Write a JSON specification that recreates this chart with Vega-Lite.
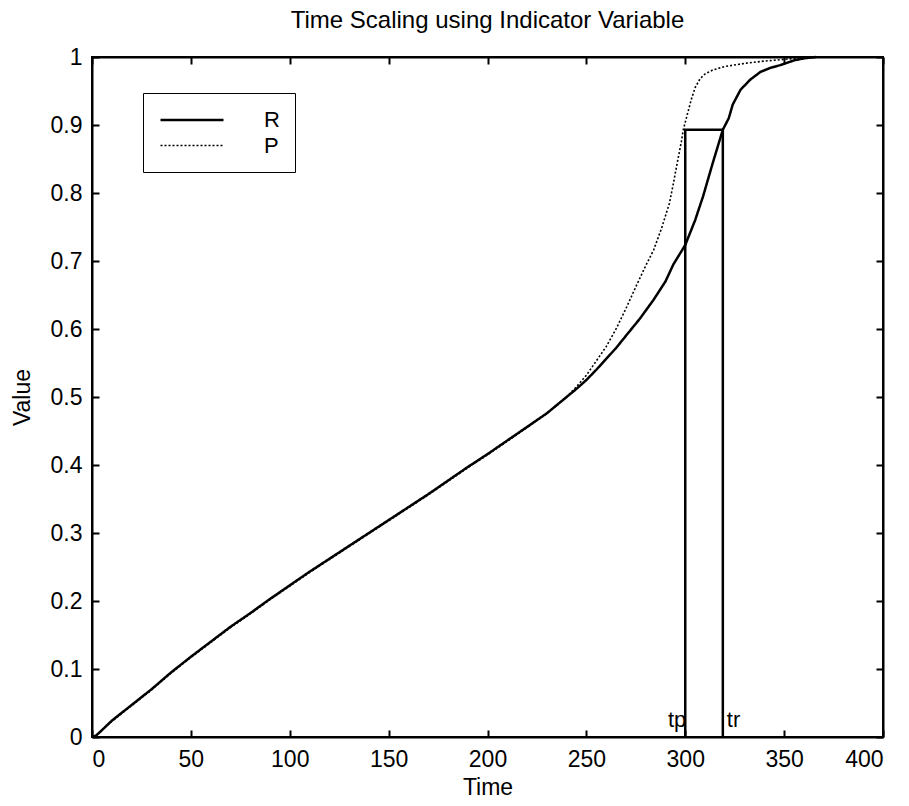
{
  "$schema": "https://vega.github.io/schema/vega-lite/v6.json",
  "autosize": "none",
  "width": 791,
  "height": 680,
  "padding": {"left": 92, "top": 57, "right": 26, "bottom": 69},
  "background": "white",
  "title": {"text": "Time Scaling using Indicator Variable", "fontSize": 24, "font": "Liberation Sans", "fontWeight": "normal", "color": "black", "offset": 13},
  "datasets": {
    "curves": [
      {"t": 0, "v": 0, "s": "R"}, {"t": 2, "v": 0.002, "s": "R"}, {"t": 5, "v": 0.01, "s": "R"}, {"t": 10, "v": 0.024, "s": "R"},
      {"t": 20, "v": 0.047, "s": "R"}, {"t": 30, "v": 0.07, "s": "R"}, {"t": 40, "v": 0.095, "s": "R"}, {"t": 50, "v": 0.118, "s": "R"},
      {"t": 60, "v": 0.14, "s": "R"}, {"t": 70, "v": 0.162, "s": "R"}, {"t": 80, "v": 0.182, "s": "R"}, {"t": 90, "v": 0.203, "s": "R"},
      {"t": 100, "v": 0.223, "s": "R"}, {"t": 110, "v": 0.243, "s": "R"}, {"t": 120, "v": 0.262, "s": "R"}, {"t": 130, "v": 0.281, "s": "R"},
      {"t": 140, "v": 0.3, "s": "R"}, {"t": 150, "v": 0.319, "s": "R"}, {"t": 160, "v": 0.338, "s": "R"}, {"t": 170, "v": 0.357, "s": "R"},
      {"t": 180, "v": 0.377, "s": "R"}, {"t": 190, "v": 0.397, "s": "R"}, {"t": 200, "v": 0.416, "s": "R"}, {"t": 210, "v": 0.436, "s": "R"},
      {"t": 220, "v": 0.456, "s": "R"}, {"t": 230, "v": 0.476, "s": "R"}, {"t": 240, "v": 0.5, "s": "R"}, {"t": 245, "v": 0.512, "s": "R"},
      {"t": 250, "v": 0.525, "s": "R"}, {"t": 255, "v": 0.54, "s": "R"}, {"t": 260, "v": 0.556, "s": "R"}, {"t": 265, "v": 0.572, "s": "R"},
      {"t": 270, "v": 0.59, "s": "R"}, {"t": 277, "v": 0.615, "s": "R"}, {"t": 284, "v": 0.643, "s": "R"}, {"t": 290, "v": 0.67, "s": "R"},
      {"t": 294, "v": 0.695, "s": "R"}, {"t": 300, "v": 0.7235, "s": "R"}, {"t": 305, "v": 0.76, "s": "R"}, {"t": 309, "v": 0.795, "s": "R"},
      {"t": 314, "v": 0.845, "s": "R"}, {"t": 319, "v": 0.893, "s": "R"}, {"t": 322, "v": 0.91, "s": "R"}, {"t": 324, "v": 0.93, "s": "R"},
      {"t": 328, "v": 0.952, "s": "R"}, {"t": 333, "v": 0.967, "s": "R"}, {"t": 338, "v": 0.978, "s": "R"}, {"t": 343, "v": 0.984, "s": "R"},
      {"t": 348, "v": 0.988, "s": "R"}, {"t": 355, "v": 0.995, "s": "R"}, {"t": 360, "v": 0.998, "s": "R"}, {"t": 366, "v": 1.0, "s": "R"},
      {"t": 0, "v": 0, "s": "P"}, {"t": 2, "v": 0.002, "s": "P"}, {"t": 5, "v": 0.01, "s": "P"}, {"t": 10, "v": 0.023, "s": "P"},
      {"t": 20, "v": 0.046, "s": "P"}, {"t": 30, "v": 0.069, "s": "P"}, {"t": 40, "v": 0.094, "s": "P"}, {"t": 50, "v": 0.117, "s": "P"},
      {"t": 60, "v": 0.139, "s": "P"}, {"t": 70, "v": 0.161, "s": "P"}, {"t": 80, "v": 0.181, "s": "P"}, {"t": 90, "v": 0.202, "s": "P"},
      {"t": 100, "v": 0.222, "s": "P"}, {"t": 110, "v": 0.242, "s": "P"}, {"t": 120, "v": 0.261, "s": "P"}, {"t": 130, "v": 0.28, "s": "P"},
      {"t": 140, "v": 0.299, "s": "P"}, {"t": 150, "v": 0.318, "s": "P"}, {"t": 160, "v": 0.337, "s": "P"}, {"t": 170, "v": 0.356, "s": "P"},
      {"t": 180, "v": 0.376, "s": "P"}, {"t": 190, "v": 0.396, "s": "P"}, {"t": 200, "v": 0.415, "s": "P"}, {"t": 210, "v": 0.435, "s": "P"},
      {"t": 220, "v": 0.455, "s": "P"}, {"t": 230, "v": 0.476, "s": "P"}, {"t": 240, "v": 0.5, "s": "P"}, {"t": 245, "v": 0.515, "s": "P"},
      {"t": 250, "v": 0.532, "s": "P"}, {"t": 255, "v": 0.553, "s": "P"}, {"t": 260, "v": 0.574, "s": "P"}, {"t": 265, "v": 0.6, "s": "P"},
      {"t": 270, "v": 0.63, "s": "P"}, {"t": 275, "v": 0.662, "s": "P"}, {"t": 280, "v": 0.693, "s": "P"}, {"t": 284, "v": 0.716, "s": "P"},
      {"t": 288, "v": 0.748, "s": "P"}, {"t": 292, "v": 0.785, "s": "P"}, {"t": 294, "v": 0.814, "s": "P"}, {"t": 296, "v": 0.845, "s": "P"},
      {"t": 298, "v": 0.875, "s": "P"}, {"t": 299, "v": 0.893, "s": "P"}, {"t": 301, "v": 0.915, "s": "P"}, {"t": 303, "v": 0.937, "s": "P"},
      {"t": 305, "v": 0.955, "s": "P"}, {"t": 307.5, "v": 0.968, "s": "P"}, {"t": 310, "v": 0.975, "s": "P"}, {"t": 314, "v": 0.981, "s": "P"},
      {"t": 320, "v": 0.986, "s": "P"}, {"t": 331, "v": 0.991, "s": "P"}, {"t": 340, "v": 0.994, "s": "P"}, {"t": 348, "v": 0.996, "s": "P"},
      {"t": 360, "v": 0.999, "s": "P"}, {"t": 366, "v": 1.0, "s": "P"}
    ],
    "box": [
      {"t": 300, "v": 0, "k": 1}, {"t": 300, "v": 0.893, "k": 2}, {"t": 319, "v": 0.893, "k": 3}, {"t": 319, "v": 0, "k": 4}
    ],
    "marks": [
      {"t": 300, "v": 0.015, "label": "tp"}, {"t": 320, "v": 0.015, "label": "tr"}
    ]
  },
  "config": {
    "font": "Liberation Sans",
    "view": {"stroke": "black", "strokeWidth": 2},
    "axis": {
      "grid": false, "domainColor": "black", "domainWidth": 2, "tickColor": "black", "tickWidth": 2,
      "tickSize": -7, "labelColor": "black", "labelFontSize": 23, "labelFont": "Liberation Sans",
      "titleColor": "black", "titleFontSize": 23, "titleFontWeight": "normal", "titleFont": "Liberation Sans"
    }
  },
  "layer": [
    {
      "data": {"name": "box"},
      "mark": {"type": "line", "color": "black", "strokeWidth": 2.5},
      "encoding": {
        "x": {"field": "t", "type": "quantitative", "scale": {"domain": [0, 400], "nice": false},
              "axis": {"orient": "top", "labels": false, "title": null, "values": [0, 50, 100, 150, 200, 250, 300, 350, 400]}},
        "y": {"field": "v", "type": "quantitative", "scale": {"domain": [0, 1], "nice": false},
              "axis": {"orient": "right", "labels": false, "title": null, "values": [0, 0.1, 0.2, 0.3, 0.4, 0.5, 0.6, 0.7, 0.8, 0.9, 1]}},
        "order": {"field": "k", "type": "quantitative"}
      }
    },
    {
      "data": {"name": "curves"},
      "mark": {"type": "line", "color": "black"},
      "encoding": {
        "x": {"field": "t", "type": "quantitative", "scale": {"domain": [0, 400], "nice": false},
              "axis": {"orient": "bottom", "title": "Time", "titlePadding": 5, "labelPadding": 18, "values": [0, 50, 100, 150, 200, 250, 300, 350, 400]}},
        "y": {"field": "v", "type": "quantitative", "scale": {"domain": [0, 1], "nice": false},
              "axis": {"orient": "left", "title": "Value", "titlePadding": 16, "labelPadding": 17,
                       "values": [0, 0.1, 0.2, 0.3, 0.4, 0.5, 0.6, 0.7, 0.8, 0.9, 1],
                       "labelExpr": "datum.value == 0 ? '0' : datum.value == 1 ? '1' : format(datum.value, '.1f')"}},
        "strokeDash": {"field": "s", "type": "nominal",
                       "scale": {"domain": ["R", "P"], "range": [[1, 0], [2, 2]]},
                       "legend": {"title": null, "orient": "none", "legendX": 51, "legendY": 36,
                                  "strokeColor": "black", "fillColor": "white", "padding": 15,
                                  "symbolType": "M-3,0H3", "symbolSize": 441, "symbolOffset": 22,
                                  "symbolStrokeColor": "black", "symbolStrokeWidth": 2, "symbolFillColor": "transparent",
                                  "labelFontSize": 22, "labelColor": "black", "labelOffset": 60, "rowPadding": 3}},
        "strokeWidth": {"field": "s", "type": "nominal", "scale": {"domain": ["R", "P"], "range": [2.5, 1.6]}, "legend": null}
      }
    },
    {
      "data": {"name": "marks"},
      "transform": [{"filter": "datum.label == 'tp'"}],
      "mark": {"type": "text", "align": "right", "baseline": "alphabetic", "fontSize": 22, "color": "black", "dx": 1},
      "encoding": {
        "x": {"field": "t", "type": "quantitative", "axis": null},
        "y": {"field": "v", "type": "quantitative", "axis": null},
        "text": {"field": "label"}
      }
    },
    {
      "data": {"name": "marks"},
      "transform": [{"filter": "datum.label == 'tr'"}],
      "mark": {"type": "text", "align": "left", "baseline": "alphabetic", "fontSize": 22, "color": "black", "dx": 2},
      "encoding": {
        "x": {"field": "t", "type": "quantitative", "axis": null},
        "y": {"field": "v", "type": "quantitative", "axis": null},
        "text": {"field": "label"}
      }
    }
  ]
}
